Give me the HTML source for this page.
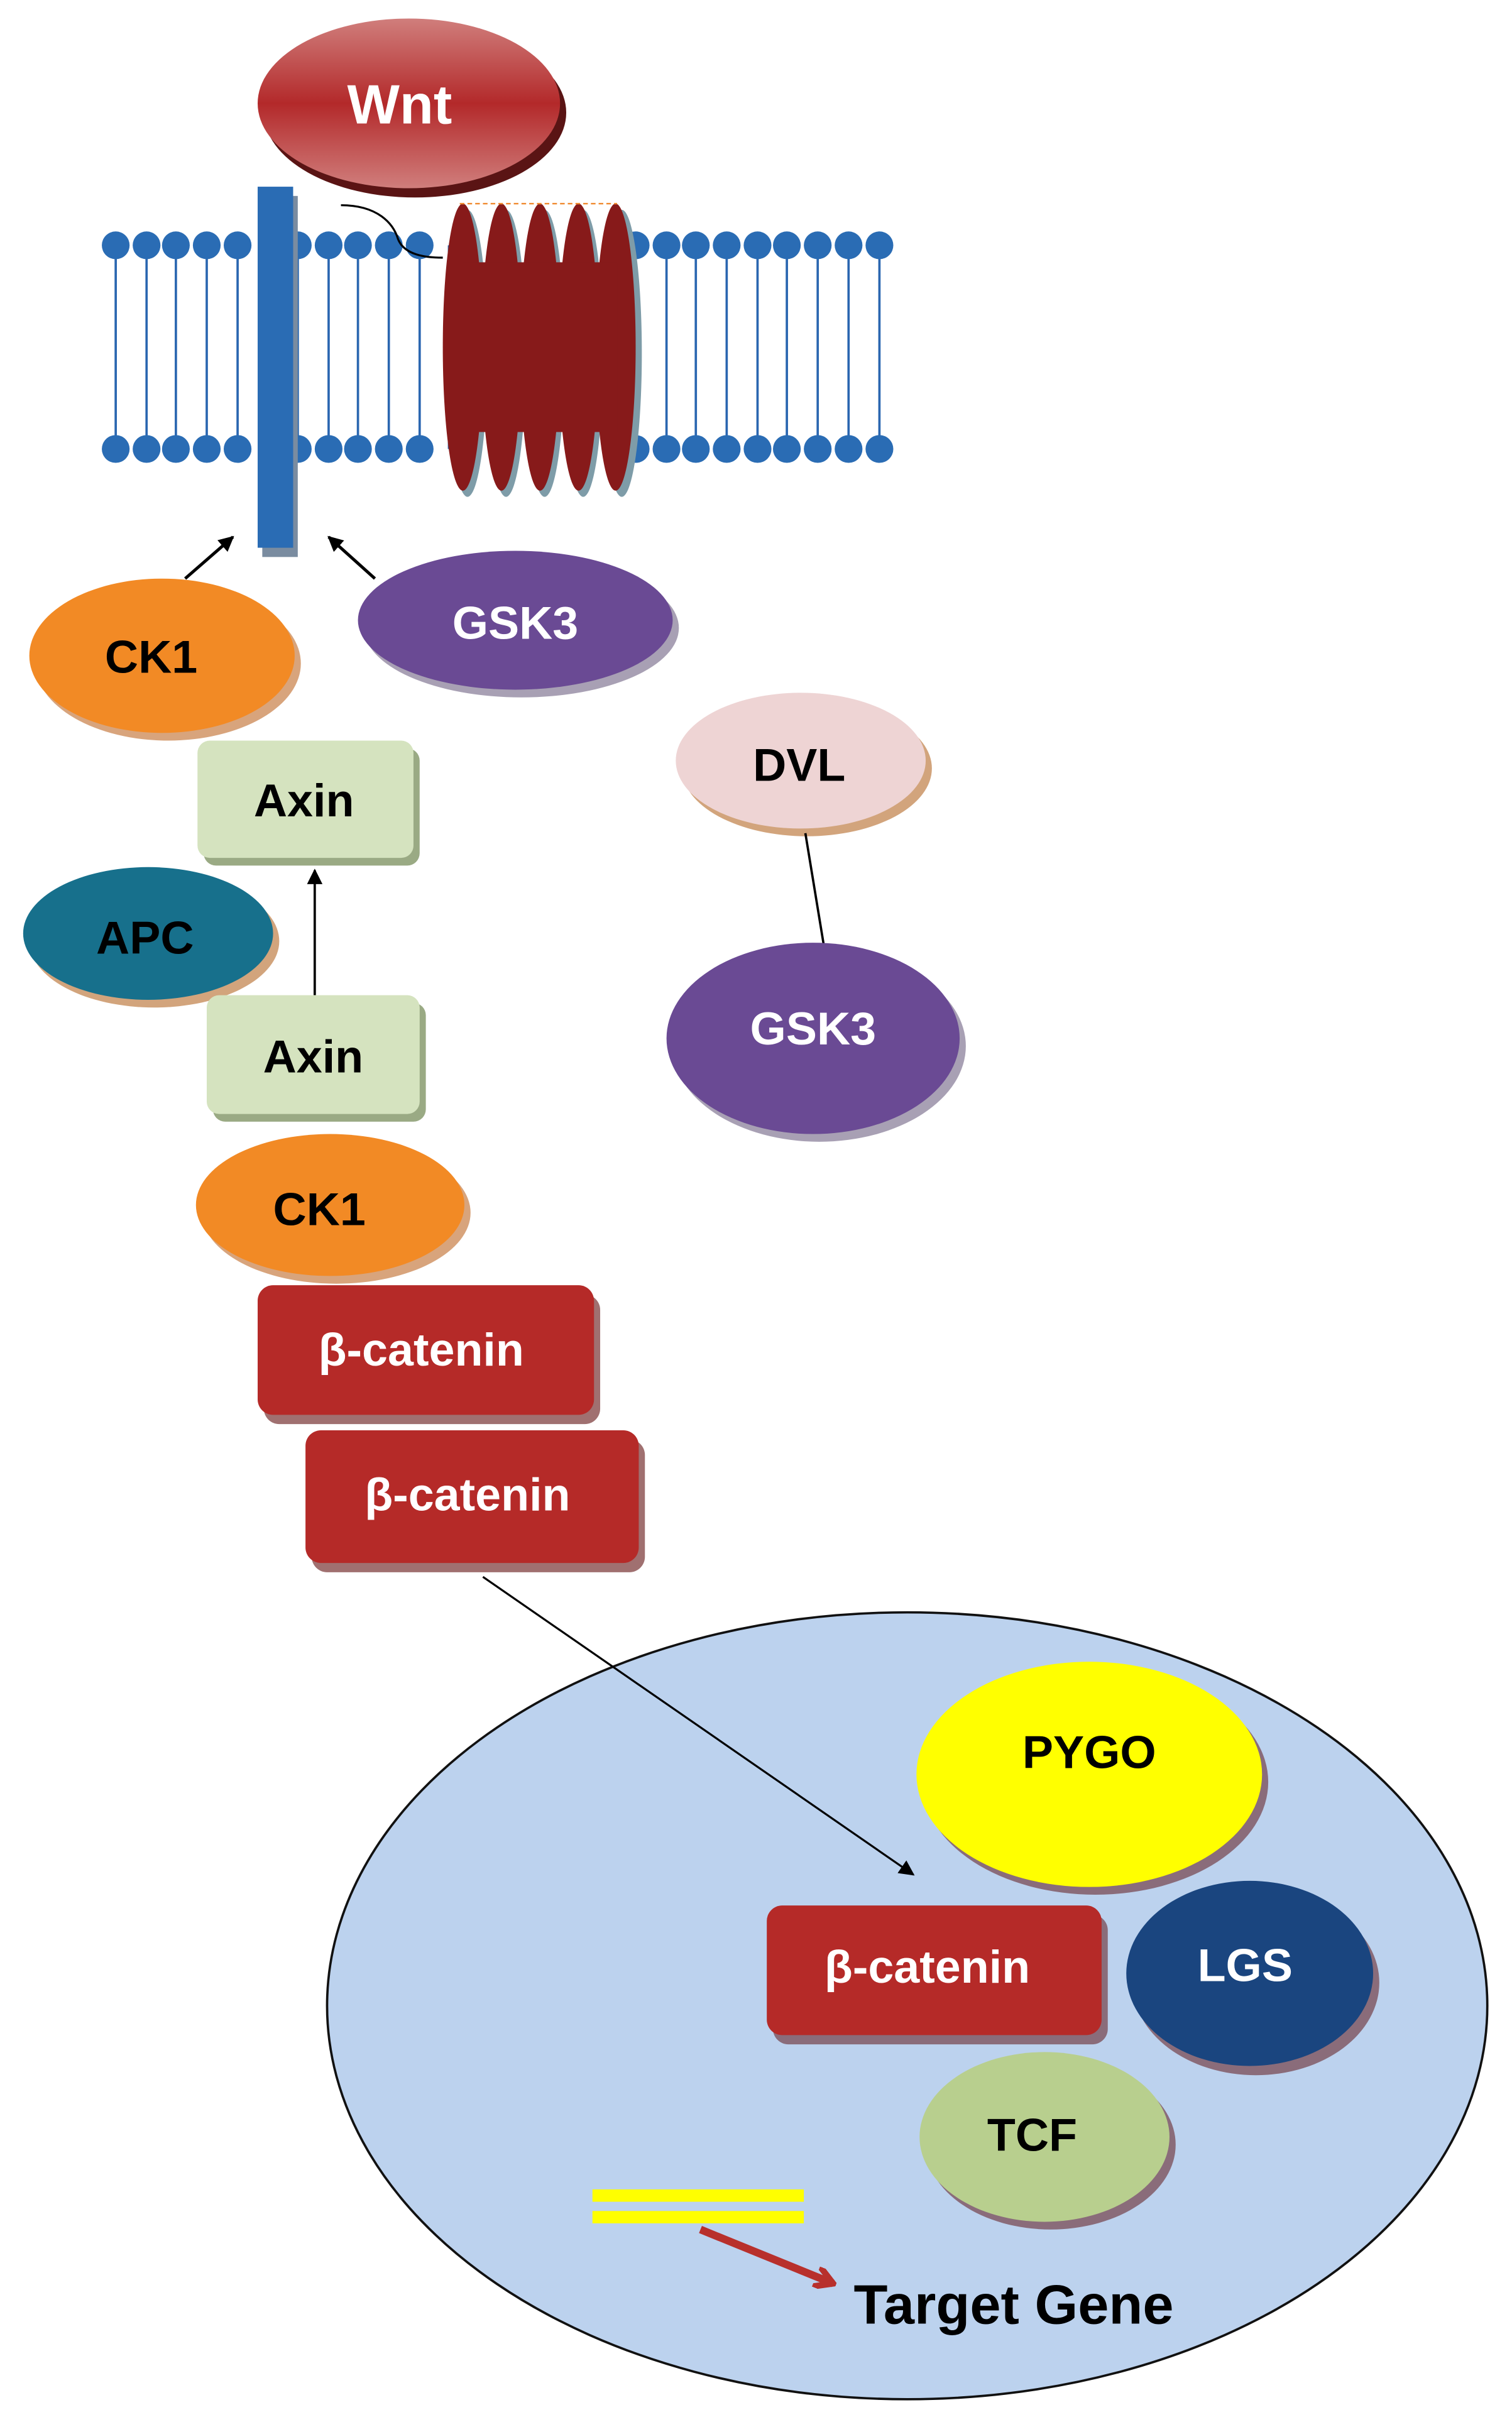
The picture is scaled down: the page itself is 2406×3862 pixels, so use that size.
<!DOCTYPE html>
<html><head><meta charset="utf-8"><style>
html,body{margin:0;padding:0;background:#fff}
svg{display:block}
text{font-family:"Liberation Sans",sans-serif;font-weight:bold;text-anchor:middle}
</style></head><body>
<svg width="2406" height="3862" viewBox="0 0 980 1573" preserveAspectRatio="none" xmlns="http://www.w3.org/2000/svg">
<defs>
<linearGradient id="wg" x1="0" y1="0" x2="0" y2="1">
<stop offset="0" stop-color="#D07E7C"/><stop offset="0.5" stop-color="#B3292A"/><stop offset="1" stop-color="#D07E7C"/>
</linearGradient>
<marker id="ah" markerWidth="10" markerHeight="10" refX="9" refY="5" orient="auto" markerUnits="userSpaceOnUse">
<path d="M0,0 L10,5 L0,10 z" fill="#000"/></marker>
<marker id="ahr" markerWidth="14" markerHeight="14" refX="12" refY="7" orient="auto" markerUnits="userSpaceOnUse">
<path d="M0,0 L12,7 L0,14" fill="none" stroke="#B8302C" stroke-width="4"/></marker>
</defs>

<!-- Wnt -->
<ellipse cx="269" cy="73" rx="98" ry="55" fill="#5A1414"/>
<ellipse cx="265" cy="67" rx="98" ry="55" fill="url(#wg)"/>
<text x="259" y="80" font-size="36" fill="#fff">Wnt</text>

<!-- membrane -->
<g stroke="#2A66B0" stroke-width="1.5" fill="#2A6CB4">
<line x1="75" y1="159" x2="75" y2="291"/><line x1="95" y1="159" x2="95" y2="291"/><line x1="114" y1="159" x2="114" y2="291"/><line x1="134" y1="159" x2="134" y2="291"/><line x1="154" y1="159" x2="154" y2="291"/><line x1="174" y1="159" x2="174" y2="291"/><line x1="193" y1="159" x2="193" y2="291"/><line x1="213" y1="159" x2="213" y2="291"/><line x1="232" y1="159" x2="232" y2="291"/><line x1="252" y1="159" x2="252" y2="291"/><line x1="272" y1="159" x2="272" y2="291"/><line x1="291" y1="159" x2="291" y2="291"/><line x1="412" y1="159" x2="412" y2="291"/><line x1="432" y1="159" x2="432" y2="291"/><line x1="451" y1="159" x2="451" y2="291"/><line x1="471" y1="159" x2="471" y2="291"/><line x1="491" y1="159" x2="491" y2="291"/><line x1="510" y1="159" x2="510" y2="291"/><line x1="530" y1="159" x2="530" y2="291"/><line x1="550" y1="159" x2="550" y2="291"/><line x1="570" y1="159" x2="570" y2="291"/>
</g>
<g fill="#2A6CB4">
<ellipse cx="75" cy="159" rx="9" ry="9"/><ellipse cx="95" cy="159" rx="9" ry="9"/><ellipse cx="114" cy="159" rx="9" ry="9"/><ellipse cx="134" cy="159" rx="9" ry="9"/><ellipse cx="154" cy="159" rx="9" ry="9"/><ellipse cx="193" cy="159" rx="9" ry="9"/><ellipse cx="213" cy="159" rx="9" ry="9"/><ellipse cx="232" cy="159" rx="9" ry="9"/><ellipse cx="252" cy="159" rx="9" ry="9"/><ellipse cx="272" cy="159" rx="9" ry="9"/><ellipse cx="412" cy="159" rx="9" ry="9"/><ellipse cx="432" cy="159" rx="9" ry="9"/><ellipse cx="451" cy="159" rx="9" ry="9"/><ellipse cx="471" cy="159" rx="9" ry="9"/><ellipse cx="491" cy="159" rx="9" ry="9"/><ellipse cx="510" cy="159" rx="9" ry="9"/><ellipse cx="530" cy="159" rx="9" ry="9"/><ellipse cx="550" cy="159" rx="9" ry="9"/><ellipse cx="570" cy="159" rx="9" ry="9"/>
<ellipse cx="75" cy="291" rx="9" ry="9"/><ellipse cx="95" cy="291" rx="9" ry="9"/><ellipse cx="114" cy="291" rx="9" ry="9"/><ellipse cx="134" cy="291" rx="9" ry="9"/><ellipse cx="154" cy="291" rx="9" ry="9"/><ellipse cx="193" cy="291" rx="9" ry="9"/><ellipse cx="213" cy="291" rx="9" ry="9"/><ellipse cx="232" cy="291" rx="9" ry="9"/><ellipse cx="252" cy="291" rx="9" ry="9"/><ellipse cx="272" cy="291" rx="9" ry="9"/><ellipse cx="412" cy="291" rx="9" ry="9"/><ellipse cx="432" cy="291" rx="9" ry="9"/><ellipse cx="451" cy="291" rx="9" ry="9"/><ellipse cx="471" cy="291" rx="9" ry="9"/><ellipse cx="491" cy="291" rx="9" ry="9"/><ellipse cx="510" cy="291" rx="9" ry="9"/><ellipse cx="530" cy="291" rx="9" ry="9"/><ellipse cx="550" cy="291" rx="9" ry="9"/><ellipse cx="570" cy="291" rx="9" ry="9"/>
</g>

<!-- LRP bar -->
<rect x="170" y="127" width="23" height="234" fill="#7A8CA0"/>
<rect x="167" y="121" width="23" height="234" fill="#2A6CB4"/>

<!-- Frizzled -->
<g fill="#7E9CA8">
<ellipse cx="303" cy="229" rx="13" ry="93"/><ellipse cx="328" cy="229" rx="13" ry="93"/><ellipse cx="353" cy="229" rx="13" ry="93"/><ellipse cx="378" cy="229" rx="13" ry="93"/><ellipse cx="403" cy="229" rx="13" ry="93"/>
</g>
<g fill="#871A1A">
<ellipse cx="300" cy="225" rx="13" ry="93"/><ellipse cx="325" cy="225" rx="13" ry="93"/><ellipse cx="350" cy="225" rx="13" ry="93"/><ellipse cx="375" cy="225" rx="13" ry="93"/><ellipse cx="399" cy="225" rx="13" ry="93"/>
<rect x="300" y="170" width="100" height="110"/>
</g>
<line x1="298" y1="132" x2="400" y2="132" stroke="#F08A30" stroke-width="1" stroke-dasharray="3,2"/>
<path d="M221,133 C245,133 255,145 258,155 C262,165 275,167 287,167" fill="none" stroke="#000" stroke-width="1.3"/>

<!-- arrows -->
<line x1="120" y1="375" x2="151" y2="348" stroke="#000" stroke-width="2" marker-end="url(#ah)"/>
<line x1="243" y1="375" x2="213" y2="348" stroke="#000" stroke-width="2" marker-end="url(#ah)"/>

<!-- CK1 -->
<ellipse cx="109" cy="430" rx="86" ry="50" fill="#D8A47C"/>
<ellipse cx="105" cy="425" rx="86" ry="50" fill="#F28A25"/>
<text x="98" y="436" font-size="30" fill="#000">CK1</text>

<!-- GSK3 top -->
<ellipse cx="338" cy="407" rx="102" ry="45" fill="#A8A0B4"/>
<ellipse cx="334" cy="402" rx="102" ry="45" fill="#6A4A94"/>
<text x="334" y="414" font-size="30" fill="#fff">GSK3</text>

<!-- DVL -->
<ellipse cx="523" cy="498" rx="81" ry="44" fill="#D2A47C"/>
<ellipse cx="519" cy="493" rx="81" ry="44" fill="#EED4D4"/>
<text x="518" y="506" font-size="30" fill="#000">DVL</text>
<line x1="522" y1="540" x2="534" y2="613" stroke="#000" stroke-width="1.5"/>

<!-- GSK3 2 -->
<ellipse cx="531" cy="678" rx="95" ry="62" fill="#A8A0B4"/>
<ellipse cx="527" cy="673" rx="95" ry="62" fill="#6A4A94"/>
<text x="527" y="677" font-size="30" fill="#fff">GSK3</text>

<!-- Axin 1 -->
<rect x="132" y="485" width="140" height="76" rx="8" fill="#9AAA84"/>
<rect x="128" y="480" width="140" height="76" rx="8" fill="#D5E3BF"/>
<text x="197" y="529" font-size="30" fill="#000">Axin</text>

<!-- APC -->
<ellipse cx="100" cy="610" rx="81" ry="43" fill="#D2A47C"/>
<ellipse cx="96" cy="605" rx="81" ry="43" fill="#17708C"/>
<text x="94" y="618" font-size="30" fill="#000">APC</text>

<line x1="204" y1="645" x2="204" y2="564" stroke="#000" stroke-width="1.5" marker-end="url(#ah)"/>

<!-- Axin 2 -->
<rect x="138" y="650" width="138" height="77" rx="8" fill="#9AAA84"/>
<rect x="134" y="645" width="138" height="77" rx="8" fill="#D5E3BF"/>
<text x="203" y="695" font-size="30" fill="#000">Axin</text>

<!-- CK1 2 -->
<ellipse cx="218" cy="786" rx="87" ry="46" fill="#D8A47C"/>
<ellipse cx="214" cy="781" rx="87" ry="46" fill="#F28A25"/>
<text x="207" y="794" font-size="30" fill="#000">CK1</text>

<!-- beta catenins -->
<rect x="171" y="839" width="218" height="84" rx="10" fill="#A07070"/>
<rect x="167" y="833" width="218" height="84" rx="10" fill="#B52A28"/>
<text x="273" y="885" font-size="30" fill="#fff">β-catenin</text>
<rect x="202" y="933" width="216" height="86" rx="10" fill="#A07070"/>
<rect x="198" y="927" width="216" height="86" rx="10" fill="#B52A28"/>
<text x="303" y="979" font-size="30" fill="#fff">β-catenin</text>

<!-- nucleus -->
<ellipse cx="588" cy="1300" rx="376" ry="255" fill="#BCD2EE" stroke="#111" stroke-width="1.5"/>
<line x1="313" y1="1022" x2="592" y2="1215" stroke="#000" stroke-width="1.3" marker-end="url(#ah)"/>

<!-- PYGO -->
<ellipse cx="710" cy="1155" rx="112" ry="73" fill="#8A6C7A"/>
<ellipse cx="706" cy="1150" rx="112" ry="73" fill="#FFFF00"/>
<text x="706" y="1146" font-size="30" fill="#000">PYGO</text>

<!-- beta-catenin nuclear -->
<rect x="501" y="1241" width="217" height="84" rx="10" fill="#8A6C7A"/>
<rect x="497" y="1235" width="217" height="84" rx="10" fill="#B52A28"/>
<text x="601" y="1285" font-size="30" fill="#fff">β-catenin</text>

<!-- LGS -->
<ellipse cx="814" cy="1285" rx="80" ry="60" fill="#8A6C7A"/>
<ellipse cx="810" cy="1279" rx="80" ry="60" fill="#1A457F"/>
<text x="807" y="1284" font-size="30" fill="#fff">LGS</text>

<!-- TCF -->
<ellipse cx="681" cy="1390" rx="81" ry="55" fill="#8A6C7A"/>
<ellipse cx="677" cy="1385" rx="81" ry="55" fill="#B8CF8E"/>
<text x="669" y="1394" font-size="30" fill="#000">TCF</text>

<!-- gene -->
<rect x="384" y="1419" width="137" height="8" fill="#FFFF00"/>
<rect x="384" y="1433" width="137" height="8" fill="#FFFF00"/>
<line x1="454" y1="1445" x2="540" y2="1480" stroke="#B8302C" stroke-width="5" marker-end="url(#ahr)"/>
<text x="657" y="1506" font-size="36" fill="#000">Target Gene</text>
</svg>
</body></html>
